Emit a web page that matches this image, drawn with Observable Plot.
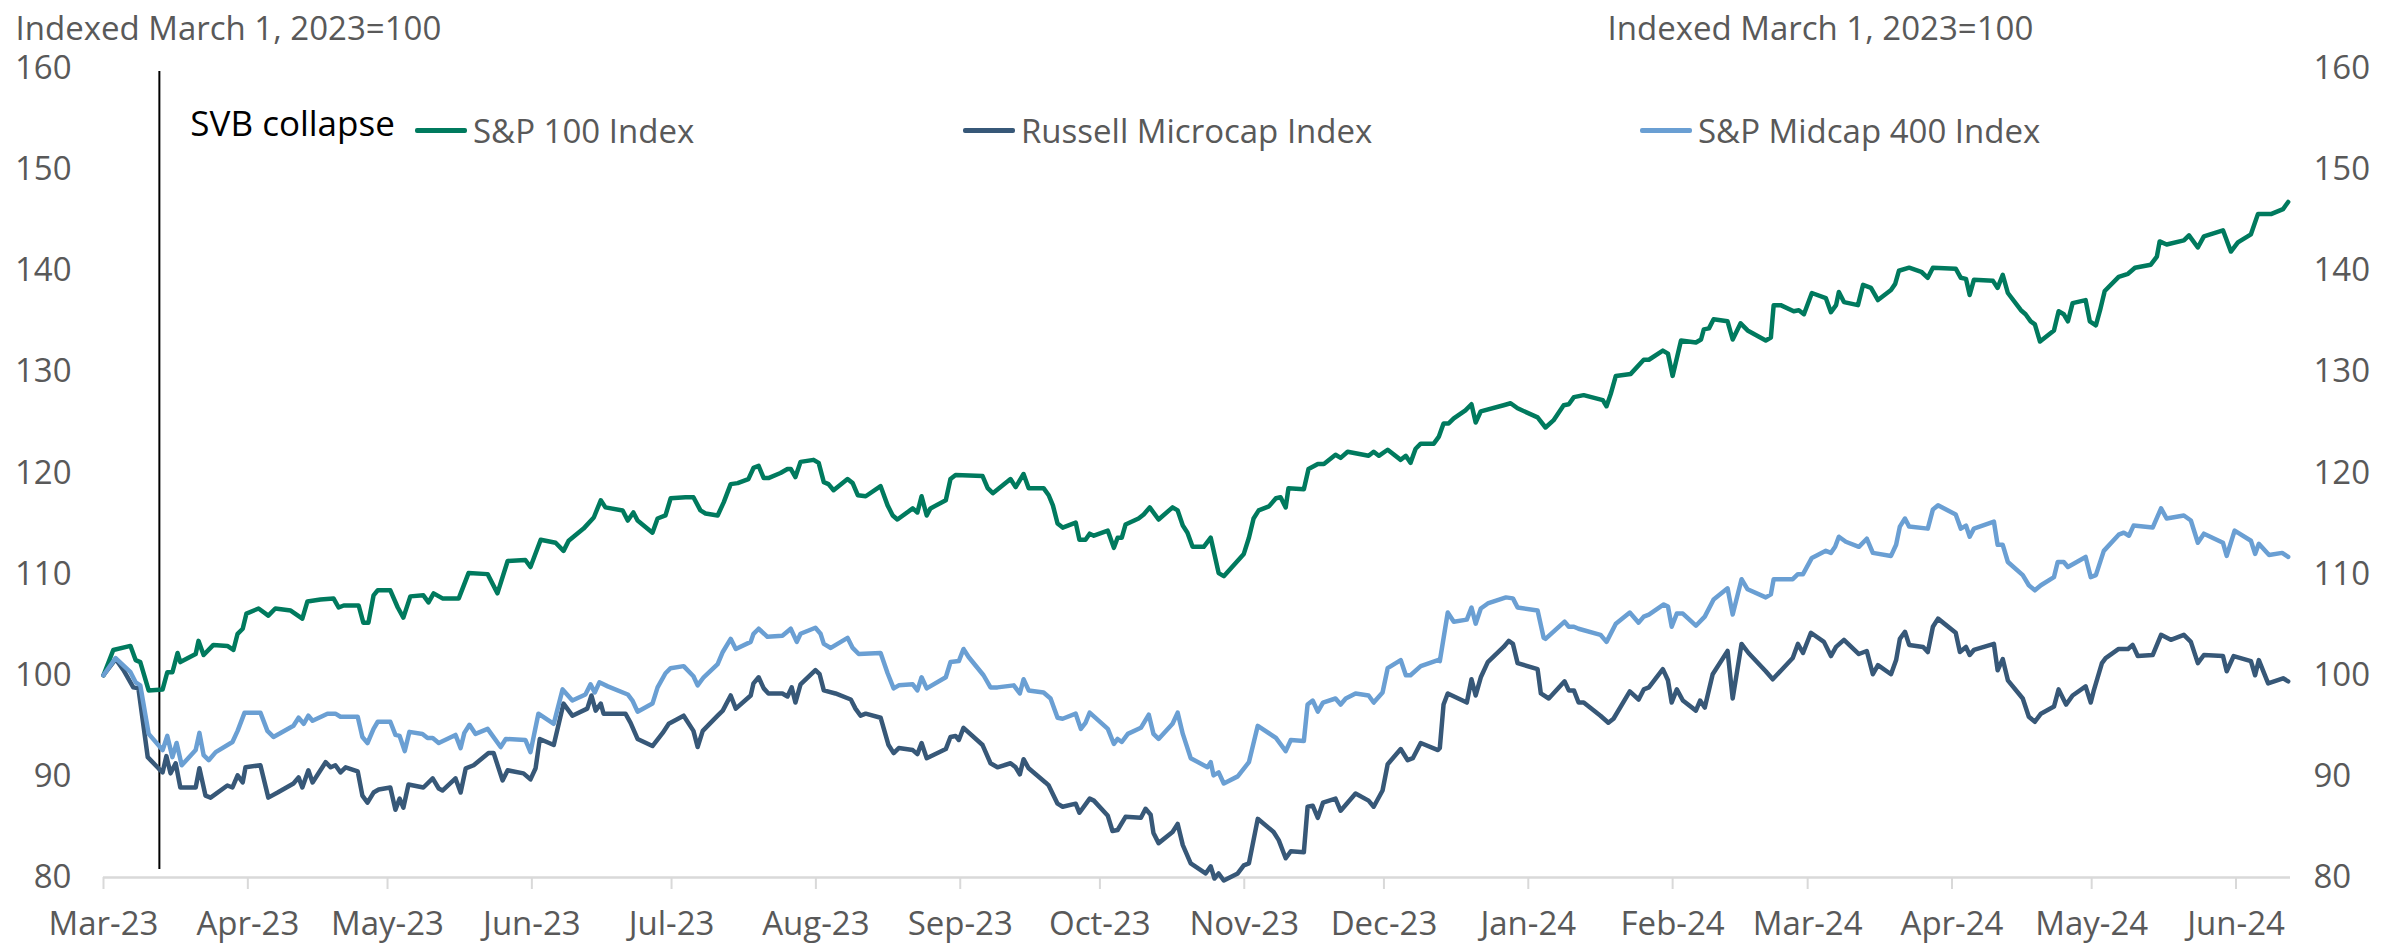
<!DOCTYPE html>
<html><head><meta charset="utf-8">
<script src="https://cdn.jsdelivr.net/npm/d3@7"></script>
<script src="https://cdn.jsdelivr.net/npm/@observablehq/plot@0.6"></script>
<style>
body{margin:0;background:#fff;}
#wrap{position:relative;width:2384px;height:947px;font-family:"Open Sans",sans-serif;}
.leg{position:absolute;display:flex;align-items:center;font-size:33px;line-height:33px;color:#595959;white-space:nowrap;}
.sw{display:inline-block;width:52px;height:5px;margin-right:6px;border-radius:2px;}
</style></head><body><div id="wrap"></div>
<script>
// Data: [days since 2023-03-01, index value (Mar 1, 2023 = 100)]
const sp100 = [[0,100],[2.1,102.5],[5.8,102.9],[6.9,101.5],[7.9,101.3],[9.7,98.5],[12.7,98.6],[13.7,100.3],[14.8,100.3],[15.9,102.2],[16.5,101.3],[19.8,102.1],[20.4,103.4],[21.5,102.0],[23.6,103.0],[26.6,102.9],[27.9,102.5],[28.8,104.1],[29.9,104.6],[30.7,106.1],[33.3,106.6],[35.4,105.9],[36.9,106.6],[40.2,106.4],[42.7,105.6],[43.8,107.3],[46.6,107.5],[49.4,107.6],[50.5,106.7],[51.6,106.9],[54.8,106.9],[55.8,105.2],[56.9,105.2],[58.0,107.9],[58.9,108.4],[61.6,108.4],[63.2,106.7],[64.4,105.7],[65.9,107.8],[68.7,107.9],[69.8,107.2],[70.9,108.1],[72.8,107.6],[76.3,107.6],[78.4,110.1],[82.5,110.0],[84.6,108.1],[86.8,111.3],[90.6,111.4],[91.7,110.7],[93.9,113.4],[97.1,113.1],[98.8,112.3],[99.9,113.3],[103.1,114.5],[105.3,115.6],[106.8,117.3],[107.8,116.6],[111.5,116.3],[112.6,115.3],[113.8,116.1],[114.7,115.3],[117.9,114.1],[119.0,115.5],[120.7,115.8],[121.8,117.5],[125.0,117.6],[126.7,117.6],[128.2,116.3],[129.3,116.0],[131.9,115.8],[133.2,117.1],[134.7,118.9],[136.2,119.0],[138.5,119.4],[139.6,120.5],[140.7,120.7],[141.8,119.5],[142.8,119.5],[145.4,120.0],[146.9,120.4],[147.6,120.4],[148.6,119.6],[149.7,121.1],[152.5,121.3],[153.6,121.0],[154.7,119.1],[155.7,118.9],[156.8,118.3],[159.8,119.4],[160.9,119.0],[162.0,117.8],[163.7,117.7],[166.9,118.7],[168.4,116.8],[169.5,115.8],[170.5,115.4],[173.8,116.5],[174.8,116.1],[175.7,117.7],[176.8,115.8],[177.6,116.5],[180.9,117.3],[181.9,119.4],[183.0,119.8],[188.8,119.7],[189.9,118.5],[191.0,118.0],[194.8,119.4],[195.9,118.6],[197.6,119.9],[198.7,118.5],[201.9,118.5],[203.0,117.8],[203.9,116.8],[204.9,115.0],[206.0,114.6],[208.8,115.1],[209.6,113.4],[210.9,113.4],[211.8,114.0],[212.7,113.8],[215.7,114.3],[217.0,112.6],[217.8,113.6],[218.7,113.6],[219.5,114.9],[222.3,115.5],[223.4,115.9],[224.7,116.6],[226.6,115.4],[229.6,116.6],[230.7,116.3],[231.8,114.8],[232.8,114.1],[233.9,112.7],[236.3,112.7],[237.8,113.6],[239.5,110.1],[240.6,109.8],[244.9,112.0],[246.0,113.6],[247.0,115.5],[248.1,116.3],[250.3,116.7],[251.8,117.5],[252.8,117.6],[253.9,116.6],[254.5,118.5],[257.8,118.4],[258.8,120.4],[260.8,120.9],[262.1,120.9],[264.6,121.8],[265.7,121.5],[267.2,122.1],[271.7,121.7],[272.8,122.1],[273.9,121.7],[275.8,122.3],[278.6,121.3],[279.7,121.7],[280.7,121.0],[281.8,122.4],[282.9,122.9],[285.7,122.9],[286.8,123.6],[287.8,124.9],[288.9,124.9],[290.0,125.4],[292.5,126.2],[293.8,126.8],[294.7,125.0],[295.8,126.1],[300.7,126.7],[302.2,126.9],[303.7,126.4],[308.0,125.5],[309.7,124.5],[311.4,125.2],[313.6,126.7],[314.7,126.8],[315.8,127.5],[317.9,127.7],[322.0,127.2],[322.8,126.6],[323.7,127.8],[324.8,129.6],[328.0,129.8],[330.8,131.2],[331.9,131.2],[334.9,132.1],[336.0,131.8],[337.0,129.6],[338.8,133.1],[342.0,132.9],[343.1,133.2],[343.7,134.2],[344.8,134.3],[345.8,135.2],[348.8,135.0],[349.9,133.2],[351.6,134.8],[353.1,134.1],[357.0,133.1],[358.1,133.4],[358.7,136.6],[360.2,136.6],[363.0,136.0],[364.1,136.1],[365.2,135.7],[366.9,137.8],[369.9,137.3],[371.0,135.9],[372.1,136.6],[372.7,137.9],[373.8,136.9],[376.8,136.6],[377.9,138.6],[379.6,138.3],[381.1,137.1],[383.9,138.1],[384.8,138.7],[385.6,140.0],[387.8,140.3],[390.4,139.9],[391.8,139.3],[392.9,140.3],[397.8,140.2],[398.9,139.3],[400.0,139.2],[400.8,137.6],[401.7,139.1],[405.8,139.0],[406.8,138.3],[407.9,139.6],[409.0,137.8],[411.8,136.1],[412.8,135.7],[413.9,135.0],[414.8,134.7],[415.9,133.0],[418.9,134.1],[419.9,136.0],[421.0,135.7],[421.9,135.0],[422.9,136.8],[425.7,137.1],[426.6,135.0],[427.9,134.6],[428.8,136.1],[429.8,138.0],[432.8,139.4],[434.8,139.7],[436.3,140.3],[439.7,140.6],[441.0,141.4],[441.6,142.9],[443.1,142.6],[446.8,143.0],[447.9,143.5],[449.8,142.3],[451.1,143.4],[455.2,144.0],[456.9,141.9],[458.4,142.8],[461.2,143.6],[462.7,145.6],[465.5,145.6],[468.1,146.1],[469.2,146.8]];

const microcap = [[0,100],[2.6,101.6],[4.3,100.5],[6.4,98.8],[7.5,98.7],[9.5,91.9],[11.8,90.8],[12.7,90.4],[13.5,92.0],[14.4,90.3],[15.5,91.3],[16.5,88.9],[19.8,88.9],[20.6,90.8],[21.9,88.1],[23.0,87.9],[26.6,89.1],[27.7,88.9],[28.8,90.1],[29.9,89.4],[30.5,90.9],[33.7,91.1],[35.4,87.9],[37.4,88.4],[40.8,89.3],[41.9,89.9],[42.7,88.9],[44.0,90.6],[44.9,89.4],[47.7,91.4],[48.8,90.9],[49.8,91.1],[50.9,90.4],[52.0,90.9],[54.6,90.5],[55.6,88.1],[56.7,87.4],[58.0,88.4],[59.1,88.7],[61.6,88.9],[62.7,86.7],[63.6,87.8],[64.4,86.9],[65.5,89.2],[68.7,88.9],[70.7,89.8],[72.0,88.8],[72.8,88.6],[75.6,89.8],[76.7,88.4],[77.8,90.8],[79.5,91.1],[82.7,92.3],[83.8,92.3],[85.7,89.6],[86.8,90.6],[90.2,90.3],[91.7,89.7],[92.8,90.8],[93.7,93.7],[96.7,93.1],[98.8,97.2],[100.7,96.0],[103.9,96.7],[104.8,98.0],[105.7,96.5],[106.8,97.2],[107.4,96.2],[112.1,96.2],[113.2,95.3],[114.7,93.7],[117.9,93.0],[120.1,94.3],[121.4,95.2],[124.6,96.0],[126.7,94.5],[127.6,92.9],[128.7,94.5],[131.9,96.0],[133.0,96.5],[134.7,98.0],[135.8,96.7],[139.0,98.0],[139.6,99.2],[140.7,99.8],[141.8,98.7],[142.8,98.2],[145.8,98.2],[146.9,97.9],[147.8,98.8],[148.6,97.3],[149.7,99.1],[152.9,100.5],[153.8,100.1],[154.7,98.5],[157.2,98.2],[160.5,97.6],[161.5,96.7],[162.6,96.0],[163.7,96.2],[166.9,95.8],[168.6,93.1],[169.7,92.3],[170.8,92.8],[173.8,92.6],[174.8,92.2],[175.7,93.3],[176.8,91.8],[180.9,92.7],[181.9,93.9],[183.0,94.0],[183.7,93.6],[184.7,94.8],[188.8,93.1],[190.5,91.3],[192.0,90.9],[194.8,91.3],[195.9,90.9],[196.8,90.2],[197.6,91.7],[198.7,90.8],[202.3,89.4],[203.0,89.1],[204.9,87.3],[206.0,87.0],[208.8,87.3],[209.6,86.4],[211.8,87.8],[212.7,87.6],[215.7,86.1],[216.7,84.6],[217.8,84.7],[219.5,86.0],[222.8,85.9],[223.8,86.8],[224.9,86.2],[225.5,84.4],[226.6,83.4],[229.6,84.5],[230.7,85.3],[231.8,83.2],[233.5,81.4],[236.7,80.4],[237.8,81.1],[238.6,79.9],[239.5,80.4],[240.6,79.7],[243.6,80.4],[244.9,81.2],[246.0,81.4],[247.9,85.8],[251.3,84.5],[252.4,83.7],[253.9,81.9],[255.0,82.6],[257.8,82.5],[258.6,87.0],[259.7,87.1],[260.8,85.9],[261.9,87.4],[264.6,87.8],[265.7,86.6],[268.9,88.3],[271.7,87.6],[272.8,87.0],[274.7,88.6],[275.8,91.2],[278.6,92.7],[280.1,91.6],[281.2,91.8],[282.9,93.3],[286.6,92.6],[287.0,92.8],[287.8,97.1],[288.7,98.2],[292.8,97.3],[293.8,99.6],[294.7,98.0],[295.8,99.8],[297.3,101.3],[300.7,102.8],[301.8,103.4],[302.7,103.1],[303.7,101.2],[308.0,100.6],[308.7,98.2],[310.4,97.7],[313.8,99.4],[314.7,98.5],[315.8,98.5],[316.8,97.3],[317.9,97.3],[321.5,96.0],[323.2,95.3],[324.3,95.7],[327.8,98.4],[329.7,97.6],[330.8,98.6],[331.9,98.8],[334.9,100.6],[336.0,99.5],[336.8,97.3],[337.9,98.6],[339.2,97.5],[342.0,96.5],[342.9,97.5],[343.9,96.8],[345.6,100.1],[348.8,102.4],[349.9,97.7],[351.8,103.1],[353.3,102.2],[357.0,100.4],[358.5,99.6],[362.8,101.7],[363.9,103.1],[365.0,102.2],[366.7,104.2],[369.5,103.3],[371.0,101.9],[372.1,102.8],[373.8,103.5],[377.0,102.1],[378.7,102.4],[380.0,100.1],[381.1,101.0],[383.9,100.1],[385.0,101.5],[385.8,103.6],[386.9,104.3],[387.8,103.0],[390.8,102.8],[391.8,102.3],[392.9,104.8],[394.0,105.6],[397.8,104.2],[398.7,102.3],[400.0,102.8],[400.8,102.0],[401.7,102.5],[406.0,103.1],[406.8,100.5],[407.9,101.6],[409.0,99.5],[412.2,97.7],[413.5,95.9],[414.8,95.4],[416.1,96.2],[418.9,96.9],[419.9,98.6],[421.5,97.1],[422.9,98.0],[425.7,98.9],[426.8,97.3],[427.4,98.4],[429.2,101.2],[430.0,101.7],[432.8,102.6],[434.8,102.6],[435.8,103.0],[436.9,101.9],[440.1,102.0],[441.9,104.0],[444.0,103.5],[446.8,104.0],[448.3,103.3],[449.8,101.2],[451.1,102.0],[455.2,101.9],[456.0,100.4],[457.5,101.9],[461.2,101.4],[462.1,100.0],[462.9,101.5],[464.9,99.2],[468.1,99.7],[469.2,99.4]];

const midcap = [[0,100],[2.6,101.7],[5.8,100.3],[6.9,99.3],[7.9,99.0],[9.7,94.2],[12.7,92.6],[13.7,94.0],[14.8,91.9],[15.7,93.3],[16.8,91.1],[19.8,92.6],[20.6,94.3],[21.5,92.1],[22.6,91.6],[24.1,92.4],[27.7,93.4],[28.8,94.5],[30.3,96.3],[33.7,96.3],[35.2,94.5],[36.5,93.9],[40.8,95.0],[41.9,95.8],[43.0,95.2],[44.0,96.0],[44.9,95.5],[48.1,96.2],[49.8,96.2],[50.9,95.9],[54.6,95.9],[55.6,93.9],[56.7,93.3],[58.0,94.7],[58.9,95.4],[61.6,95.4],[62.7,94.1],[63.6,94.0],[64.7,92.5],[65.7,94.4],[68.5,94.2],[69.6,93.8],[70.7,93.8],[72.0,93.3],[75.6,94.1],[76.7,92.8],[77.5,94.3],[78.6,95.1],[79.9,94.2],[82.5,94.7],[85.3,92.9],[86.4,93.7],[90.6,93.6],[91.7,92.4],[93.4,96.2],[96.7,95.2],[98.6,98.6],[100.7,97.5],[103.5,98.1],[104.6,99.1],[105.5,98.3],[106.5,99.3],[108.3,98.9],[112.6,98.1],[113.6,97.5],[114.7,96.4],[117.9,97.2],[119.0,98.8],[120.7,100.2],[121.8,100.7],[124.6,100.9],[126.7,99.9],[127.6,99.0],[128.9,99.8],[131.9,101.1],[133.0,102.3],[134.7,103.6],[135.8,102.6],[139.0,103.3],[139.6,104.1],[140.7,104.6],[142.6,103.8],[145.8,103.9],[147.6,104.6],[148.9,103.3],[149.7,104.1],[152.9,104.7],[154.0,104.1],[154.7,103.1],[156.2,102.7],[159.8,103.7],[160.9,102.7],[162.2,102.1],[166.9,102.2],[168.4,100.2],[169.7,98.7],[170.8,99.0],[173.8,99.1],[174.8,98.5],[175.7,99.8],[176.8,98.7],[180.9,99.8],[181.9,101.3],[183.7,101.4],[184.7,102.6],[185.8,101.8],[189.0,100.0],[190.5,98.8],[192.0,98.8],[195.5,99.0],[196.8,98.2],[197.6,99.6],[198.7,98.5],[201.9,98.3],[203.4,97.7],[204.9,95.8],[206.0,95.7],[208.8,96.2],[209.9,94.7],[210.9,95.3],[211.8,96.3],[215.7,94.7],[217.0,93.2],[217.8,93.7],[218.7,93.4],[220.0,94.2],[222.8,94.8],[224.5,96.1],[225.5,94.2],[226.6,93.7],[229.6,95.2],[230.7,96.3],[231.8,94.2],[233.5,91.8],[237.1,90.9],[237.8,91.4],[238.4,90.1],[239.5,90.4],[240.6,89.3],[243.6,90.0],[246.0,91.4],[247.9,95.0],[251.8,93.8],[253.9,92.5],[255.0,93.6],[257.8,93.5],[258.6,97.1],[259.7,97.5],[260.8,96.4],[261.9,97.3],[264.6,97.7],[265.7,97.1],[266.8,97.7],[268.9,98.2],[271.7,98.0],[272.8,97.3],[274.7,98.3],[275.8,100.7],[278.6,101.5],[279.7,100.0],[280.7,100.0],[282.9,100.9],[286.6,101.5],[287.0,101.4],[288.7,106.2],[290.0,105.3],[292.8,105.5],[293.8,106.7],[294.7,105.1],[295.8,106.6],[297.3,107.1],[301.2,107.7],[302.7,107.6],[303.7,106.7],[308.0,106.4],[309.3,103.7],[309.7,103.6],[313.8,105.3],[314.7,104.8],[315.8,104.8],[316.8,104.6],[321.5,104.0],[322.8,103.3],[324.8,105.1],[327.8,106.2],[329.7,105.2],[330.8,105.8],[331.9,106.0],[335.1,107.0],[336.0,106.8],[336.8,104.8],[337.9,106.1],[339.2,106.1],[342.0,104.9],[343.9,105.8],[345.8,107.5],[348.8,108.6],[349.9,106.0],[351.8,109.5],[353.1,108.5],[357.0,107.7],[358.1,108.0],[358.7,109.5],[362.8,109.5],[363.9,110.0],[365.0,110.0],[366.9,111.6],[369.9,112.3],[371.0,112.1],[371.9,112.7],[372.7,113.7],[374.2,113.2],[377.0,112.7],[378.7,113.5],[380.0,112.1],[383.9,111.8],[385.0,112.9],[385.8,114.7],[386.9,115.5],[387.8,114.7],[391.8,114.5],[392.9,116.4],[394.0,116.8],[397.8,115.9],[398.9,114.5],[400.0,114.8],[400.8,113.7],[401.7,114.5],[406.0,115.2],[406.8,112.9],[407.9,112.9],[409.0,111.2],[412.2,109.9],[413.5,108.9],[414.8,108.4],[416.1,108.9],[418.9,109.7],[419.7,111.2],[421.0,111.2],[421.9,110.7],[425.7,111.7],[426.8,109.7],[427.9,109.9],[429.6,112.3],[432.8,113.9],[433.9,114.1],[435.0,113.8],[436.0,114.8],[440.1,114.6],[441.9,116.5],[443.1,115.5],[446.8,115.8],[448.3,115.3],[449.8,113.1],[451.1,114.0],[455.2,113.1],[456.0,111.8],[457.7,114.3],[461.2,113.3],[462.1,112.0],[462.9,113.0],[465.1,111.9],[467.9,112.1],[469.2,111.7]];

const seriesNames = ["S&P 100 Index", "Russell Microcap Index", "S&P Midcap 400 Index"];
const seriesColors = ["#007A5E", "#375878", "#6A9FD3"];
const seriesData = [sp100, microcap, midcap];
const yTicks = [80, 90, 100, 110, 120, 130, 140, 150, 160];
const axisTitle = "Indexed March 1, 2023=100";
const svbLabel = "SVB collapse";
const svbDay = 12;          // days since 2023-03-01 (Mar 13, 2023)
const lastDay = 469.7;      // end of the time axis

const base = Date.UTC(2023, 2, 1);
const toDate = d => new Date(base + d * 864e5);

const rows = [];
seriesNames.forEach((name, i) => seriesData[i].forEach(([d, v]) => rows.push({series: name, date: toDate(d), value: v})));
const monthTicks = d3.utcMonth.range(new Date(Date.UTC(2023, 2, 1)), new Date(Date.UTC(2024, 5, 2)));
const gray = "#595959";

const chart = Plot.plot({
  width: 2384, height: 947,
  marginTop: 68, marginBottom: 70, marginLeft: 103, marginRight: 94,
  style: {fontFamily: "'Open Sans', sans-serif", fontSize: "33px", background: "white", overflow: "visible"},
  x: {type: "utc", domain: [toDate(0), toDate(lastDay)]},
  y: {domain: [80, 160]},
  color: {domain: seriesNames, range: seriesColors},
  marks: [
    Plot.ruleY([80], {stroke: "#d9d9d9", strokeWidth: 2.5}),
    Plot.axisX(monthTicks, {tickSize: 12, stroke: "#d9d9d9", strokeWidth: 2, fill: gray, tickPadding: 22, tickFormat: d3.utcFormat("%b-%y"), label: null}),
    Plot.axisY(yTicks, {anchor: "left", tickSize: 0, tickPadding: 32, fill: gray, label: null}),
    Plot.axisY(yTicks, {anchor: "right", tickSize: 0, tickPadding: 23, fill: gray, label: null}),
    Plot.ruleX([toDate(svbDay)], {stroke: "black", strokeWidth: 2, insetTop: 3, insetBottom: 8}),
    Plot.text([{date: toDate(svbDay), label: svbLabel}], {x: "date", text: "label", frameAnchor: "top", dx: 31, dy: 43, textAnchor: "start", fill: "black", fontSize: 35}),
    Plot.line(rows, {x: "date", y: "value", z: "series", stroke: "series", strokeWidth: 4.5}),
    Plot.text([axisTitle], {frameAnchor: "top-left", dx: -88, dy: -52, textAnchor: "start", fill: gray}),
    Plot.text([axisTitle], {frameAnchor: "top-right", dx: -683, dy: -52, textAnchor: "start", fill: gray})
  ]
});
const wrap = document.getElementById("wrap");
wrap.appendChild(chart);

// Legend (HTML, over the plot)
const legendLeft = [415, 963, 1640];
seriesNames.forEach((name, i) => {
  const item = document.createElement("div");
  item.className = "leg";
  item.style.left = legendLeft[i] + "px";
  item.style.top = "114px";
  const sw = document.createElement("span");
  sw.className = "sw";
  sw.style.background = seriesColors[i];
  item.appendChild(sw);
  item.appendChild(document.createTextNode(name));
  wrap.appendChild(item);
});
</script></body></html>
